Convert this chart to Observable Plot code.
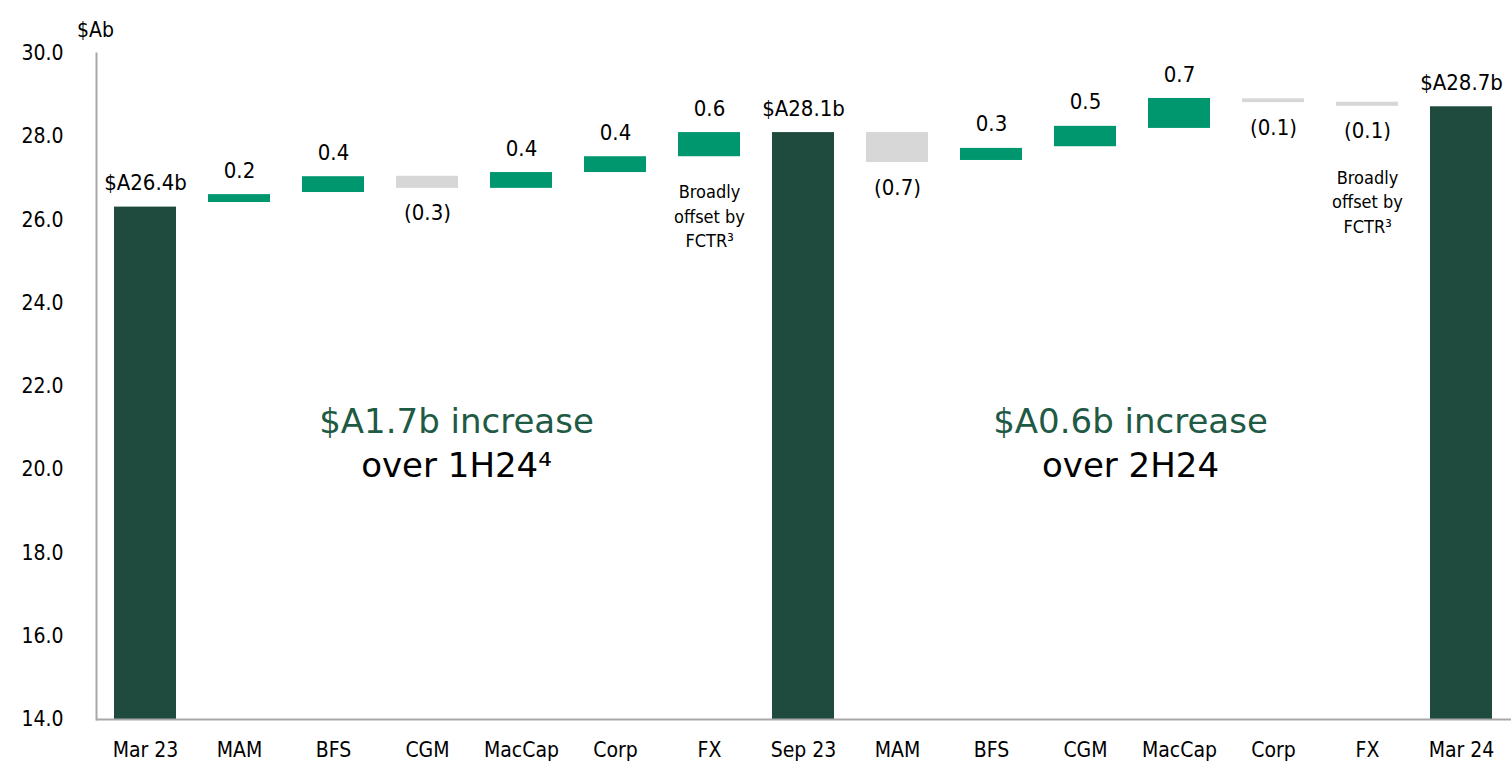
<!DOCTYPE html>
<html><head><meta charset="utf-8">
<script src="https://cdn.jsdelivr.net/npm/d3@7"></script>
<script src="https://cdn.jsdelivr.net/npm/@observablehq/plot@0.6"></script>
<style>
body{margin:0;background:#fff;}
#chart svg{display:block;}
</style></head><body><div id="chart"></div>
<script>
const categories = ["Mar 23","MAM","BFS","CGM","MacCap","Corp","FX","Sep 23","MAM","BFS","CGM","MacCap","Corp","FX","Mar 24"];
const kinds = ["total","up","up","down","up","up","up","total","down","up","up","up","down","down","total"];
const barLow  = [14, 26.42, 26.66, 26.76, 26.76, 27.14, 27.52, 14, 27.38, 27.43, 27.76, 28.20, 28.82, 28.73, 14];
const barHigh = [26.31, 26.61, 27.04, 27.05, 27.14, 27.52, 28.10, 28.10, 28.10, 27.72, 28.25, 28.92, 28.91, 28.83, 28.72];
const valueLabels = ["$A26.4b","0.2","0.4","(0.3)","0.4","0.4","0.6","$A28.1b","(0.7)","0.3","0.5","0.7","(0.1)","(0.1)","$A28.7b"];
const notes = ["","","","","","","Broadly\noffset by\nFCTR³","","","","","","","Broadly\noffset by\nFCTR³",""];
const yTicks = [14,16,18,20,22,24,26,28,30];
const firstHalfNote = {at: 3, head: "$A1.7b increase", tail: "over 1H24⁴"};
const secondHalfNote = {at: 10, head: "$A0.6b increase", tail: "over 2H24"};

const colors = {total: "#1e4b3e", up: "#00976f", down: "#d7d7d7"};
const idx = d3.range(categories.length);
const rows = idx.map(i => ({i, cat: categories[i], kind: kinds[i], lo: barLow[i], hi: barHigh[i], label: valueLabels[i], note: notes[i]}));

const condensed = "'DejaVu Sans Condensed','DejaVu Sans',sans-serif";
const sans = "'DejaVu Sans',sans-serif";
const axisGrey = "#a8a8a8";

function halfNote(n, dx) {
  return [
    Plot.text([n], {x: "at", text: "head", frameAnchor: "middle", dx, dy: 36, fontSize: 34, fontFamily: sans, fill: "#1f5a45"}),
    Plot.text([n], {x: "at", text: "tail", frameAnchor: "middle", dx, dy: 80, fontSize: 34, fontFamily: sans, fill: "#000"})
  ];
}

const chart = Plot.plot({
  width: 1511,
  height: 764,
  marginLeft: 96,
  marginRight: 0,
  marginTop: 53,
  marginBottom: 45,
  style: {fontFamily: condensed, fontSize: "20px", color: "#000", background: "#fff"},
  x: {type: "band", domain: idx, paddingInner: 0.34, paddingOuter: 0.17},
  y: {domain: [14, 30]},
  marks: [
    Plot.barY(rows, {x: "i", y1: "lo", y2: "hi", fill: d => colors[d.kind]}),
    Plot.frame({anchor: "left", stroke: axisGrey, strokeWidth: 2}),
    Plot.ruleY([14], {stroke: axisGrey, strokeWidth: 2}),
    Plot.axisY({ticks: yTicks, tickFormat: d3.format(".1f"), tickSize: 0, tickPadding: 33, fontSize: 21, label: null}),
    Plot.axisX({tickFormat: i => categories[i], tickSize: 0, tickPadding: 23, fontSize: 21, label: null}),
    Plot.text(["$Ab"], {frameAnchor: "top-left", dx: -1, dy: -31, textAnchor: "middle", fontSize: 21}),
    Plot.text(rows.filter(d => d.kind !== "down"), {x: "i", y: "hi", text: "label", dy: -24, fontSize: 22}),
    Plot.text(rows.filter(d => d.kind === "down"), {x: "i", y: "lo", text: "label", dy: 25, fontSize: 22}),
    Plot.text(rows.filter(d => d.note && d.kind !== "down"), {x: "i", y: "lo", text: "note", lineAnchor: "top", dy: 24, fontSize: 18, lineHeight: 1.36}),
    Plot.text(rows.filter(d => d.note && d.kind === "down"), {x: "i", y: "lo", text: "note", lineAnchor: "top", dy: 60, fontSize: 18, lineHeight: 1.36}),
    ...halfNote(firstHalfNote, 29),
    ...halfNote(secondHalfNote, 45)
  ]
});
document.getElementById("chart").append(chart);
</script>
</body></html>
